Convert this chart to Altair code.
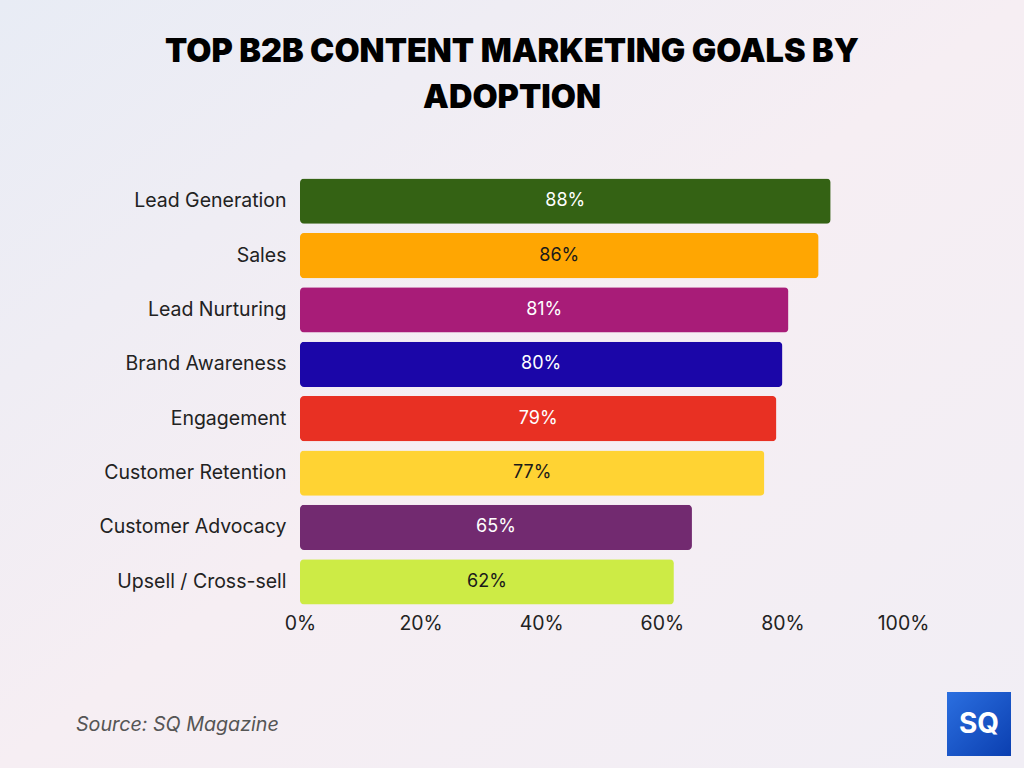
import altair as alt
import pandas as pd

categories = ["Lead Generation", "Sales", "Lead Nurturing", "Brand Awareness",
              "Engagement", "Customer Retention", "Customer Advocacy", "Upsell / Cross-sell"]
values = [88, 86, 81, 80, 79, 77, 65, 62]
bar_colors = ["#346214", "#FFA602", "#A81C78", "#1B06A8",
              "#E83023", "#FFD333", "#722A70", "#CDEB45"]
label_colors = ["#FFFFFF", "#1A1A1A", "#FFFFFF", "#FFFFFF",
                "#FFFFFF", "#1A1A1A", "#FFFFFF", "#1A1A1A"]
x_ticks = [0, 20, 40, 60, 80, 100]
title_lines = ["TOP B2B CONTENT MARKETING GOALS BY", "ADOPTION"]

df = pd.DataFrame({
    "goal": categories,
    "value": values,
    "color": bar_colors,
    "tcolor": label_colors,
    "label": [f"{v}%" for v in values],
})

FONT = "Inter"

y_enc = alt.Y("goal:N", sort=categories, title=None,
              scale=alt.Scale(paddingInner=0.17, paddingOuter=0.085),
              axis=alt.Axis(labelFont=FONT, labelFontSize=19.5, labelColor="#222222",
                            labelLimit=280, labelPadding=14, ticks=False, domain=False,
                            grid=False, zindex=1))
x_enc = alt.X("value:Q", title=None,
              scale=alt.Scale(domain=[0, 100]),
              axis=alt.Axis(values=x_ticks, labelExpr="datum.value + '%'", labelFlush=False,
                            labelFont=FONT, labelFontSize=19.5, labelColor="#222222",
                            labelPadding=5, ticks=False, domain=False, grid=False, zindex=1))

bg = alt.Chart(pd.DataFrame({"a": [1]})).mark_rect(
    color=alt.Gradient(gradient="linear",
                       stops=[alt.GradientStop(color="#E8ECF5", offset=0),
                              alt.GradientStop(color="#F6EEF3", offset=0.5),
                              alt.GradientStop(color="#F1EEF5", offset=1)],
                       x1=0, x2=1, y1=0, y2=1)
).encode(x=alt.value(-300), x2=alt.value(724), y=alt.value(-174), y2=alt.value(594))

title1 = alt.Chart(pd.DataFrame({"t": [title_lines[0]]})).mark_text(
    font=FONT, fontSize=32.5, fontWeight=900, color="#000000", align="center", baseline="alphabetic"
).encode(x=alt.value(212), y=alt.value(-112), text="t:N")
title2 = alt.Chart(pd.DataFrame({"t": [title_lines[1]]})).mark_text(
    font=FONT, fontSize=32.5, fontWeight=900, color="#000000", align="center", baseline="alphabetic"
).encode(x=alt.value(212), y=alt.value(-66), text="t:N")

bars = alt.Chart(df).mark_bar(cornerRadius=4).encode(
    y=y_enc, x=x_enc, color=alt.Color("color:N", scale=None)
)

texts = alt.Chart(df).transform_calculate(mid="datum.value / 2").mark_text(
    font=FONT, fontSize=18, baseline="middle", align="center"
).encode(
    y=alt.Y("goal:N", sort=categories),
    x=alt.X("mid:Q"),
    text="label:N",
    color=alt.Color("tcolor:N", scale=None),
)

source = alt.Chart(pd.DataFrame({"t": ["Source: SQ Magazine"]})).mark_text(
    font=FONT, fontSize=19.7, fontStyle="italic", color="#555555", align="left", baseline="alphabetic"
).encode(x=alt.value(-224), y=alt.value(557), text="t:N")

logo_box = alt.Chart(pd.DataFrame({"a": [1]})).mark_rect(
    color=alt.Gradient(gradient="linear",
                       stops=[alt.GradientStop(color="#2B6FE0", offset=0),
                              alt.GradientStop(color="#0B3FB0", offset=1)],
                       x1=0, x2=1, y1=0, y2=1)
).encode(x=alt.value(647), x2=alt.value(711), y=alt.value(518), y2=alt.value(582))

logo_text = alt.Chart(pd.DataFrame({"t": ["SQ"]})).mark_text(
    font=FONT, fontSize=28, fontWeight="bold", color="white", align="center", baseline="middle"
).encode(x=alt.value(679), y=alt.value(551), text="t:N")

chart = alt.layer(bg, title1, title2, bars, texts, source, logo_box, logo_text).properties(
    width=603, height=435,
    padding={"left": 300, "top": 174, "right": 121, "bottom": 159},
    autosize=alt.AutoSizeParams(type="none"),
    background="#F3EFF4",
).configure_view(stroke=None)

chart.save("out.html", embed_options={"renderer": "svg", "actions": False})
